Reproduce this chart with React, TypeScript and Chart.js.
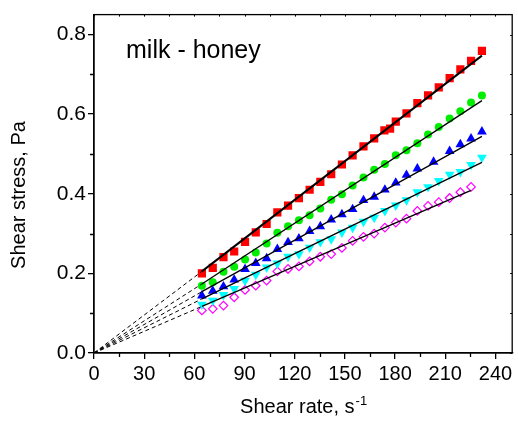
import React, { useEffect, useRef } from 'react';
import { Chart, registerables } from 'chart.js';

Chart.register(...registerables);

const FONT = "'Liberation Sans', Arial, Helvetica, sans-serif";

// Axis ticks
const xMajor = [0, 30, 60, 90, 120, 150, 180, 210, 240];
const xMinor = [15, 45, 75, 105, 135, 165, 195, 225];
const yMajor = [0, 0.2, 0.4, 0.6, 0.8];
const yMinor = [0.1, 0.3, 0.5, 0.7];

// Shear rate (1/s) at which the samples were measured
const shearRate = [
  64.5, 71.0, 77.4, 83.8, 90.3, 96.7, 103.2, 109.6, 116.0, 122.5, 128.9, 135.3, 141.8, 148.2,
  154.6, 161.1, 167.5, 173.9, 180.4, 186.8, 193.3, 199.7, 206.1, 212.6, 219.0, 225.4, 231.9,
];

// Shear stress (Pa) per honey concentration
const redRate = [
  64.5, 71.0, 77.4, 83.8, 90.3, 96.7, 103.2, 109.6, 116.0, 122.5, 128.9, 135.3, 141.8, 148.2,
  154.6, 161.1, 167.5, 173.6, 177.0, 180.4, 186.8, 193.3, 199.7, 206.1, 212.6, 219.0, 225.4, 231.9,
];
const redStress = [
  0.200, 0.214, 0.241, 0.255, 0.279, 0.303, 0.324, 0.353, 0.370, 0.389, 0.410, 0.430, 0.449, 0.4735,
  0.4965, 0.519, 0.539, 0.559, 0.5635, 0.581, 0.602, 0.6275, 0.647, 0.667, 0.6905, 0.7125, 0.734, 0.759,
];

const greenStress = [
  0.169, 0.1775, 0.204, 0.2168, 0.235, 0.2525, 0.275, 0.302, 0.3185, 0.3335, 0.346, 0.363, 0.385, 0.3985,
  0.4205, 0.441, 0.4605, 0.475, 0.4965, 0.509, 0.527, 0.549, 0.5675, 0.589, 0.607, 0.629, 0.647,
];

const blueRate = [
  64.5, 71.0, 77.4, 83.8, 90.3, 96.7, 103.2, 109.6, 116.0, 122.5, 128.9, 135.3, 141.8, 148.2,
  154.6, 161.1, 167.5, 173.9, 180.4, 186.8, 193.3, 203.0, 212.6, 219.0, 225.4, 231.9,
];
const blueStress = [
  0.144, 0.156, 0.167, 0.184, 0.2105, 0.2255, 0.2375, 0.261, 0.278, 0.2875, 0.306, 0.318, 0.335, 0.348,
  0.361, 0.3835, 0.392, 0.410, 0.4275, 0.447, 0.463, 0.480, 0.507, 0.524, 0.5385, 0.556,
];

const cyanStress = [
  0.1218, 0.132, 0.146, 0.161, 0.182, 0.197, 0.215, 0.225, 0.242, 0.2485, 0.265, 0.279, 0.286, 0.303,
  0.315, 0.330, 0.340, 0.357, 0.371, 0.384, 0.404, 0.417, 0.4325, 0.4485, 0.455, 0.4728, 0.491,
];

const magentaStress = [
  0.107, 0.111, 0.119, 0.140, 0.1585, 0.169, 0.182, 0.205, 0.211, 0.2175, 0.230, 0.2418, 0.2485, 0.264,
  0.2818, 0.2918, 0.300, 0.315, 0.3275, 0.3375, 0.3568, 0.3694, 0.3788, 0.3893, 0.4038, 0.4172,
];

// Fitted flow curves: [rate, stress] at the start and end of the fitted range
const fitStartRate = [64.5, 64.5, 64.5, 64.5, 64.5];
const fitStartStress = [0.205, 0.1735, 0.154, 0.136, 0.117];
const fitEndRate = [231.9, 231.9, 231.9, 231.9, 225.4];
const fitEndStress = [0.747, 0.634, 0.544, 0.479, 0.4085];
const fitWidth = [2, 1.3, 1.3, 1.3, 1.3];

const pts = (xs: number[], ys: number[]) => ys.map((y, i) => ({ x: xs[i], y }));

const decorPlugin = {
  id: 'decor',
  afterDraw(chart: any) {
    const { ctx, chartArea: a, scales } = chart;
    const xs = scales.x;
    const ys = scales.y;
    ctx.save();
    ctx.strokeStyle = '#000';
    ctx.lineWidth = 1.3;
    // frame
    ctx.strokeRect(a.left, a.top, a.right - a.left, a.bottom - a.top);
    ctx.beginPath();
    // minor outward ticks
    for (const v of xMinor) {
      const px = Math.round(xs.getPixelForValue(v)) + 0.5;
      ctx.moveTo(px, a.bottom);
      ctx.lineTo(px, a.bottom + 4);
    }
    for (const v of yMinor) {
      const py = Math.round(ys.getPixelForValue(v)) + 0.5;
      ctx.moveTo(a.left, py);
      ctx.lineTo(a.left - 4, py);
    }
    ctx.stroke();
    // short inward ticks on the top and right edges
    ctx.lineWidth = 1;
    ctx.beginPath();
    for (const v of [...xMajor, ...xMinor]) {
      const px = Math.round(xs.getPixelForValue(v)) + 0.5;
      ctx.moveTo(px, a.top);
      ctx.lineTo(px, a.top + 2);
    }
    for (const v of [...yMajor, ...yMinor]) {
      const py = Math.round(ys.getPixelForValue(v)) + 0.5;
      ctx.moveTo(a.right, py);
      ctx.lineTo(a.right - 2, py);
    }
    ctx.stroke();

    ctx.fillStyle = '#000';
    // annotation
    ctx.font = `25px ${FONT}`;
    ctx.textAlign = 'left';
    ctx.textBaseline = 'alphabetic';
    ctx.fillText('milk - honey', 126, 58);

    // x title with superscript
    const mainX = 'Shear rate, s';
    const supX = '-1';
    ctx.font = `20px ${FONT}`;
    const w1 = ctx.measureText(mainX).width;
    ctx.font = `13px ${FONT}`;
    const w2 = ctx.measureText(supX).width;
    const cx = (a.left + a.right) / 2;
    const startX = cx - (w1 + w2) / 2;
    ctx.font = `20px ${FONT}`;
    ctx.fillText(mainX, startX, 413);
    ctx.font = `13px ${FONT}`;
    ctx.fillText(supX, startX + w1 + 1, 405);

    // y title
    ctx.font = `20px ${FONT}`;
    ctx.translate(25, 195);
    ctx.rotate(-Math.PI / 2);
    ctx.textAlign = 'center';
    ctx.fillText('Shear stress, Pa', 0, 0);
    ctx.restore();
  },
};

export default function App() {
  const ref = useRef<HTMLCanvasElement | null>(null);

  useEffect(() => {
    if (!ref.current) return;
    const markers = [
      { data: pts(redRate, redStress), pointStyle: 'rect', radius: 5.8, color: '#ff0000', open: false, rot: 0 },
      { data: pts(shearRate, greenStress), pointStyle: 'circle', radius: 4, color: '#00ee00', open: false, rot: 0 },
      { data: pts(blueRate, blueStress), pointStyle: 'triangle', radius: 5.6, color: '#0000ff', open: false, rot: 0 },
      { data: pts(shearRate, cyanStress), pointStyle: 'triangle', radius: 5.6, color: '#00ffff', open: false, rot: 180 },
      { data: pts(shearRate, magentaStress), pointStyle: 'rectRot', radius: 4.3, color: '#ff00ff', open: true, rot: 0 },
    ];

    const datasets: any[] = [];
    markers.forEach((m) => {
      datasets.push({
        data: m.data,
        showLine: false,
        pointStyle: m.pointStyle,
        pointRadius: m.radius,
        pointRotation: m.rot,
        pointBackgroundColor: m.open ? 'rgba(255,255,255,0)' : m.color,
        pointBorderColor: m.color,
        pointBorderWidth: m.open ? 1.2 : 0,
        order: 2,
      });
    });
    fitStartRate.forEach((_, i) => {
      datasets.push({
        data: [
          { x: 0, y: 0 },
          { x: fitStartRate[i], y: fitStartStress[i] },
        ],
        showLine: true,
        pointRadius: 0,
        borderColor: '#000',
        borderWidth: 1,
        borderDash: [4, 3],
        order: 1,
      });
      datasets.push({
        data: [
          { x: fitStartRate[i], y: fitStartStress[i] },
          { x: fitEndRate[i], y: fitEndStress[i] },
        ],
        showLine: true,
        pointRadius: 0,
        borderColor: '#000',
        borderWidth: fitWidth[i],
        order: 0,
      });
    });

    const chart = new Chart(ref.current, {
      type: 'scatter',
      data: { datasets },
      options: {
        animation: false,
        responsive: true,
        maintainAspectRatio: false,
        events: [],
        layout: { padding: { top: 12, right: 1, left: 0, bottom: 0 } },
        plugins: { legend: { display: false }, tooltip: { enabled: false } },
        scales: {
          x: {
            type: 'linear',
            min: 0,
            max: 250,
            afterBuildTicks: (s: any) => {
              s.ticks = xMajor.map((v) => ({ value: v }));
            },
            afterFit: (s: any) => {
              s.height = 68;
            },
            grid: { drawOnChartArea: false, drawTicks: true, tickLength: 6, color: '#000', lineWidth: 1.3 },
            border: { display: true, color: '#000', width: 1.3 },
            ticks: { color: '#000', font: { family: FONT, size: 20 }, padding: 3, maxRotation: 0 },
          },
          y: {
            type: 'linear',
            min: 0,
            max: 0.85,
            afterBuildTicks: (s: any) => {
              s.ticks = yMajor.map((v) => ({ value: v }));
            },
            afterFit: (s: any) => {
              s.width = 94;
            },
            grid: { drawOnChartArea: false, drawTicks: true, tickLength: 6, color: '#000', lineWidth: 1.3 },
            border: { display: true, color: '#000', width: 1.3 },
            ticks: {
              color: '#000',
              font: { family: FONT, size: 21 },
              padding: 2,
              callback: (v: any) => Number(v).toFixed(1),
            },
          },
        },
      },
      plugins: [decorPlugin],
    });
    return () => chart.destroy();
  }, []);

  return (
    <div style={{ position: 'absolute', left: 0, top: 0, width: 518, height: 421, background: '#fff' }}>
      <canvas ref={ref} />
    </div>
  );
}
